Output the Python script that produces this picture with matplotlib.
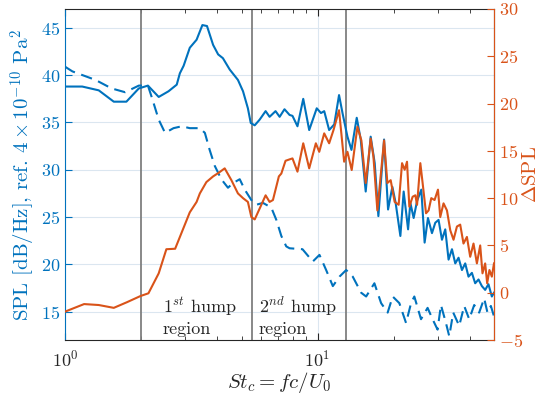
import numpy as np
import matplotlib
matplotlib.use('Agg')
import matplotlib.pyplot as plt
from matplotlib.ticker import LogLocator, NullFormatter, FixedLocator

plt.rcParams['font.family'] = 'serif'
plt.rcParams['font.serif'] = ['cmr10', 'DejaVu Serif']
plt.rcParams['mathtext.fontset'] = 'cm'
plt.rcParams['axes.unicode_minus'] = False
plt.rcParams['axes.formatter.use_mathtext'] = True

blue = '#0072BD'
orange = '#D95319'

# SPL with treatment (solid)
st_solid = [1.00, 1.17, 1.36, 1.56, 1.75, 1.96, 2.13, 2.35, 2.57, 2.77,
            2.85, 2.95, 3.12, 3.32, 3.50, 3.65, 3.86, 4.04, 4.22, 4.49,
            4.84, 5.07, 5.30, 5.44, 5.64, 5.90, 6.23, 6.46, 6.82, 7.08,
            7.40, 7.75, 7.96, 8.33, 8.78, 9.27, 9.93, 10.32, 10.63, 11.12,
            11.65, 12.17, 12.56, 13.14, 13.63, 14.30, 14.83, 15.52, 16.24, 16.85,
            17.42, 18.35, 19.03, 19.79, 20.39, 21.29, 21.94, 22.84, 23.32, 24.03,
            24.79, 25.77, 26.56, 27.38, 28.40, 29.27, 30.16, 31.11, 32.06, 33.04,
            34.08, 35.12, 36.19, 37.33, 38.46, 39.63, 40.88, 42.12, 43.42, 44.77,
            46.13, 47.54, 49.03, 50.0]
spl_solid = [38.8, 38.8, 38.4, 37.2, 37.2, 38.6, 38.9, 37.7, 38.3, 39.0,
             40.2, 41.0, 42.9, 43.75, 45.3, 45.2, 43.2, 42.2, 41.8, 40.6,
             39.5, 38.3, 36.5, 34.95, 34.7, 35.3, 36.2, 35.6, 36.2, 35.6,
             36.4, 35.8, 35.7, 34.6, 37.5, 34.2, 36.5, 36.0, 36.2, 34.2,
             34.8, 37.9, 36.0, 33.5, 32.1, 35.5, 33.2, 27.7, 33.5, 30.7,
             25.1, 33.2, 25.8, 28.2, 26.5, 23.0, 27.7, 23.7, 26.5, 24.9,
             26.7, 27.9, 22.3, 24.9, 23.3, 24.4, 24.7, 22.6, 23.7, 20.5,
             21.6, 20.1, 20.7, 19.4, 20.1, 18.7, 19.1, 18.0, 18.4, 17.7,
             17.3, 17.9, 16.6, 17.0]

# baseline SPL (dashed)
st_base = [1.00, 1.07, 1.32, 1.53, 1.73, 1.96, 2.13, 2.21, 2.35, 2.49,
           2.69, 2.90, 3.12, 3.42, 3.58, 3.74, 3.92, 4.16, 4.42, 4.63,
           4.92, 5.15, 5.47, 5.72, 6.08, 6.56, 6.87, 7.19, 7.52, 7.75,
           8.72, 9.58, 10.18, 10.82, 11.50, 12.22, 12.99, 13.79, 14.89, 15.58,
           16.80, 17.86, 18.96, 19.85, 21.09, 22.42, 23.47, 24.18, 25.70, 27.29,
           28.56, 29.89, 30.82, 32.26, 33.25, 34.48, 36.41, 38.11, 39.89, 41.74,
           43.68, 45.72, 47.11, 48.60, 50.0]
spl_base = [40.9, 40.4, 39.5, 38.6, 38.2, 38.9, 38.9, 37.6, 35.3, 33.9,
            34.4, 34.6, 34.4, 34.4, 33.9, 32.1, 30.4, 29.0, 28.1, 28.6,
            29.0, 27.9, 26.8, 26.3, 26.5, 26.0, 24.7, 23.0, 21.9, 21.7,
            21.6, 20.3, 21.0, 19.4, 17.7, 18.7, 19.4, 18.7, 17.0, 16.6,
            18.0, 15.9, 14.9, 16.6, 15.9, 13.8, 15.9, 16.6, 14.2, 15.4,
            14.2, 13.1, 15.7, 13.8, 12.4, 14.9, 13.5, 15.6, 14.2, 15.7,
            14.9, 16.4, 14.9, 15.6, 14.5]

# level difference, right axis
st_delta = [1.00, 1.19, 1.36, 1.56, 1.76, 1.99, 2.14, 2.35, 2.52, 2.73,
            3.12, 3.32, 3.42, 3.63, 3.86, 4.07, 4.29, 4.56, 4.84, 5.07,
            5.30, 5.47, 5.64, 5.90, 6.23, 6.46, 6.66, 7.03, 7.19, 7.47,
            7.75, 7.96, 8.33, 8.78, 9.27, 9.85, 10.16, 10.63, 11.12, 11.57,
            12.17, 12.75, 13.14, 13.66, 14.39, 14.92, 15.52, 16.24, 16.65, 17.26,
            18.35, 18.91, 19.49, 20.21, 20.96, 21.62, 22.14, 22.62, 23.10, 23.81,
            24.40, 24.79, 25.54, 26.08, 26.90, 27.54, 28.22, 29.08, 30.00, 30.63,
            31.56, 32.56, 33.56, 34.57, 35.66, 36.74, 37.86, 39.06, 40.25, 41.48,
            42.78, 44.09, 45.02, 46.13, 46.98, 47.97, 49.03, 50.0]
delta_spl = [-2.0, -1.2, -1.3, -1.6, -1.0, -0.35, -0.06, 2.05, 4.6, 4.65,
             8.5, 9.6, 10.5, 11.7, 12.3, 12.7, 13.15, 11.9, 10.5, 10.0,
             9.6, 8.0, 7.75, 8.9, 10.3, 9.6, 9.8, 12.3, 12.6, 13.95,
             14.1, 14.2, 12.8, 15.8, 13.15, 15.8, 14.9, 16.85, 15.8, 17.2,
             19.3, 13.85, 14.9, 12.97, 17.55, 16.1, 11.6, 16.3, 14.4, 8.7,
             16.1, 11.6, 11.9, 9.6, 9.3, 13.7, 13.0, 13.85, 9.1, 10.15,
             10.3, 9.3, 13.7, 11.6, 8.4, 8.7, 10.0, 9.8, 10.9, 8.0,
             9.45, 8.7, 6.6, 5.6, 7.0, 7.2, 5.2, 5.9, 3.8, 5.2,
             3.1, 5.0, 2.05, 3.1, 1.0, 2.4, 1.7, 3.1]

# region boundaries
region_bounds = [2.0, 5.5, 13.0]

fig = plt.figure(figsize=(5.4, 3.98), dpi=100)
ax = fig.add_axes([0.1204, 0.1457, 0.7944, 0.8317])

for xb in region_bounds:
    ax.axvline(xb, color='#7f7f7f', lw=1.3, zorder=1)

ax.plot(st_solid, spl_solid, color=blue, lw=1.5, zorder=3)
ax.plot(st_base, spl_base, color=blue, lw=1.5, ls=(0, (5.5, 3.2)), zorder=3)

ax.set_xscale('log')
ax.set_xlim(1, 50)
ax.set_ylim(12, 47)
ax.set_yticks([15, 20, 25, 30, 35, 40, 45])
ax.xaxis.set_major_locator(FixedLocator([1, 10]))
ax.xaxis.set_minor_locator(LogLocator(base=10, subs=np.arange(2, 10)))
ax.xaxis.set_minor_formatter(NullFormatter())

ax.grid(True, which='major', color='#dbe6f0', lw=0.8, zorder=0)
ax.set_axisbelow(True)

ax.tick_params(axis='x', which='both', direction='in', top=True, colors='#262626',
               labelsize=13, pad=6)
ax.tick_params(axis='x', which='major', length=5)
ax.tick_params(axis='x', which='minor', length=3)
ax.tick_params(axis='y', direction='in', length=5, colors=blue, labelsize=13, right=False)
ax.spines['left'].set_color(blue)
ax.spines['top'].set_color('#262626')
ax.spines['bottom'].set_color('#262626')

ax.set_xlabel(r'$St_c = fc/U_0$', fontsize=15, color='#262626', labelpad=1)
ax.set_ylabel(r'SPL [dB/Hz], ref. $4\times10^{-10}$ Pa$^2$', fontsize=15, color=blue,
              labelpad=2)

ax.text(2.44, 14.5, '$1^{st}$ hump\nregion', fontsize=13, ha='left', va='center',
        linespacing=1.3, color='#262626', zorder=4)
ax.text(5.84, 14.5, '$2^{nd}$ hump\nregion', fontsize=13, ha='left', va='center',
        linespacing=1.3, color='#262626', zorder=4)

ax2 = ax.twinx()
ax2.plot(st_delta, delta_spl, color=orange, lw=1.5, zorder=3)
ax2.set_ylim(-5, 30)
ax2.set_yticks([-5, 0, 5, 10, 15, 20, 25, 30])
ax2.tick_params(axis='y', direction='in', length=5, colors=orange, labelsize=13)
ax2.spines['right'].set_color(orange)
ax2.spines['left'].set_visible(False)
ax2.spines['top'].set_visible(False)
ax2.spines['bottom'].set_visible(False)
ax2.set_ylabel(r'$\Delta$SPL', fontsize=15, color=orange, labelpad=-1)

fig.savefig('out.png', dpi=100)
